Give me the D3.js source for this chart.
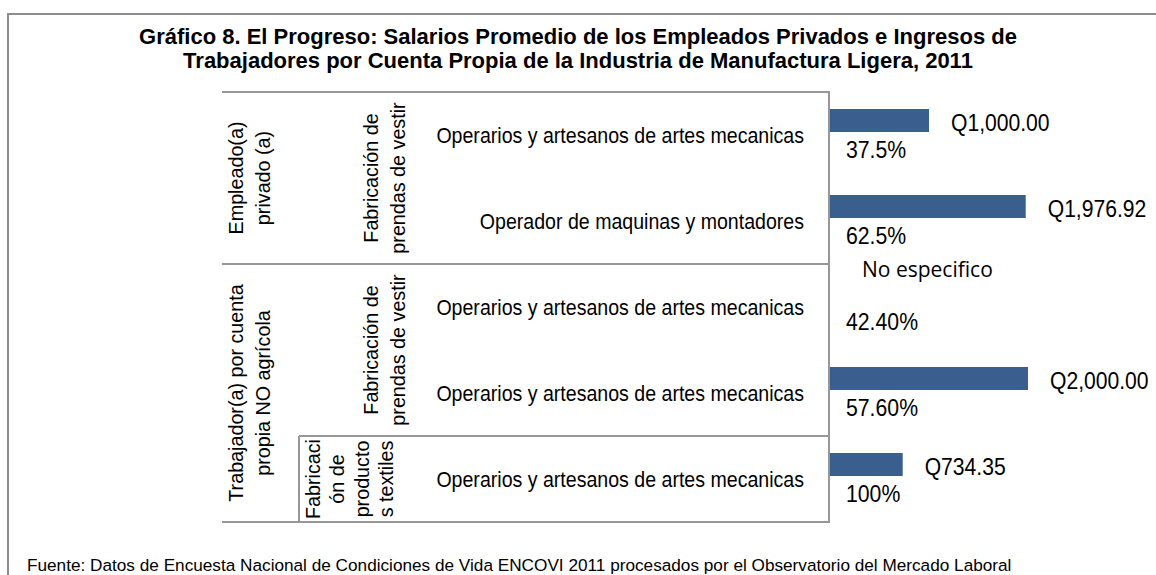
<!DOCTYPE html>
<html lang="es">
<head>
<meta charset="utf-8">
<title>Gráfico 8. El Progreso</title>
<script src="https://cdnjs.cloudflare.com/ajax/libs/d3/7.8.5/d3.min.js"></script>
<style>
  body { margin: 0; background: #fff; }
  svg { display: block; font-family: "Liberation Sans", Arial, sans-serif; }
</style>
</head>
<body>
<div id="chart"></div>
<script>
// data
const titleLines = [
  "Gráfico 8. El Progreso: Salarios Promedio de los Empleados Privados e Ingresos de",
  "Trabajadores por Cuenta Propia de la Industria de Manufactura Ligera, 2011"
];
const occupations = [
  "Operarios y artesanos de artes mecanicas",
  "Operador de maquinas y montadores",
  "Operarios y artesanos de artes mecanicas",
  "Operarios y artesanos de artes mecanicas",
  "Operarios y artesanos de artes mecanicas"
];
const salaries = [1000.00, 1976.92, null, 2000.00, 734.35];
const shares = ["37.5%", "62.5%", "42.40%", "57.60%", "100%"];
const missingLabel = "No especifico";
const workerTypes = [
  { lines: ["Empleado(a)", "privado (a)"], rows: 2 },
  { lines: ["Trabajador(a) por cuenta", "propia NO agrícola"], rows: 3 }
];
const industries = [
  { lines: ["Fabricación de", "prendas de vestir"], rows: 2 },
  { lines: ["Fabricación de", "prendas de vestir"], rows: 2 },
  { lines: ["Fabricaci", "ón de", "producto", "s textiles"], rows: 1 }
];
const source = "Fuente: Datos de Encuesta Nacional de Condiciones de Vida ENCOVI 2011 procesados por el Observatorio del Mercado Laboral";

const width = 1156, height = 575;
const lineColor = "#979797", barColor = "#3a5f8f";

const svg = d3.select("#chart").append("svg")
  .attr("width", width)
  .attr("height", height);

// the original face is condensed: place text at (px, py) and narrow it with a scale
function place(sel, px, py, k, rot) {
  sel.attr("transform", (d, i) => {
    const tx = typeof px === "function" ? px(d, i) : px;
    const ty = typeof py === "function" ? py(d, i) : py;
    return "translate(" + tx + "," + ty + ")" + (rot ? " rotate(" + rot + ")" : "") + " scale(" + k + ",1)";
  });
}

// outer frame (runs off the picture right and below)
svg.append("path")
  .attr("d", "M8," + height + "V14H" + width)
  .attr("fill", "none")
  .attr("stroke", "#8c8c8c")
  .attr("stroke-width", 2);

// title
svg.selectAll("text.title")
  .data(titleLines).enter()
  .append("text")
  .attr("class", "title")
  .attr("x", 578)
  .attr("y", (d, i) => 44 + i * 24)
  .attr("text-anchor", "middle")
  .attr("font-size", 22)
  .attr("font-weight", "bold")
  .attr("fill", "#000")
  .text(d => d);

// rows
const y = d3.scaleBand()
  .domain(d3.range(occupations.length))
  .range([92, 522]);

const x = d3.scaleLinear()
  .domain([0, 2000])
  .range([830, 1028]);

const tableLeft = 222, innerLeft = 299, tableRight = 829;

// grid lines of the category table
const g = svg.append("g")
  .attr("stroke", lineColor)
  .attr("stroke-width", 2)
  .attr("fill", "none");
g.append("line").attr("x1", tableLeft).attr("x2", tableRight).attr("y1", y(0)).attr("y2", y(0));
g.append("line").attr("x1", tableLeft).attr("x2", tableRight).attr("y1", y(2)).attr("y2", y(2));
g.append("line").attr("x1", innerLeft).attr("x2", tableRight).attr("y1", y(4)).attr("y2", y(4));
g.append("line").attr("x1", tableLeft).attr("x2", tableRight).attr("y1", y.range()[1]).attr("y2", y.range()[1]);
g.append("line").attr("x1", innerLeft).attr("x2", innerLeft).attr("y1", y(4)).attr("y2", y.range()[1]);
g.append("line").attr("x1", tableRight).attr("x2", tableRight).attr("y1", y(0) - 1).attr("y2", y.range()[1] + 1);

// occupation labels
svg.selectAll("text.occ")
  .data(occupations).enter()
  .append("text")
  .attr("class", "occ")
  .attr("text-anchor", "end")
  .attr("font-size", 22)
  .text(d => d)
  .call(place, 804, (d, i) => y(i) + y.bandwidth() / 2 + 8, 0.89);

// rotated, wrapped group labels
function groupLabels(groups, cx, pitch) {
  let start = 0;
  groups.forEach(grp => {
    const cy = y(start) + grp.rows * y.bandwidth() / 2;
    const p = pitch(grp), c = cx(grp);
    grp.lines.forEach((line, li) => {
      const off = (li - (grp.lines.length - 1) / 2) * p + 7.4;
      svg.append("text")
        .attr("text-anchor", "middle")
        .attr("font-size", 21)
        .text(line)
        .call(place, c + off, cy, 0.94, -90);
    });
    start += grp.rows;
  });
}
groupLabels(workerTypes, () => 249, () => 27);
groupLabels(industries, grp => grp.lines.length > 2 ? 349 : 384, grp => grp.lines.length > 2 ? 24.4 : 27.5);

// bars
const barOffset = 17, barHeight = 23;
const rows = salaries.map((v, i) => ({ v, i, share: shares[i] }));

svg.selectAll("rect.bar")
  .data(rows.filter(d => d.v !== null)).enter()
  .append("rect")
  .attr("class", "bar")
  .attr("x", x(0))
  .attr("y", d => y(d.i) + barOffset)
  .attr("width", d => x(d.v) - x(0))
  .attr("height", barHeight)
  .attr("fill", barColor);

const money = d3.format(",.2f");
svg.selectAll("text.val")
  .data(rows.filter(d => d.v !== null)).enter()
  .append("text")
  .attr("class", "val")
  .attr("font-size", 24)
  .text(d => "Q" + money(d.v))
  .call(place, d => x(d.v) + 22, d => y(d.i) + barOffset + barHeight - 1, 0.88);

svg.selectAll("text.share")
  .data(rows).enter()
  .append("text")
  .attr("class", "share")
  .attr("font-size", 24)
  .text(d => d.share)
  .call(place, 846, d => y(d.i) + 65.5, 0.885);

rows.filter(d => d.v === null).forEach(d => {
  svg.append("text")
    .attr("x", 862)
    .attr("y", y(d.i) + barOffset - 4)
    .attr("font-family", "'Open Sans', 'Noto Sans', sans-serif")
    .attr("font-size", 21)
    .text(missingLabel);
});

// source note
svg.append("text")
  .attr("x", 27)
  .attr("y", 571)
  .attr("font-size", 17.2)
  .text(source);
</script>
</body>
</html>
